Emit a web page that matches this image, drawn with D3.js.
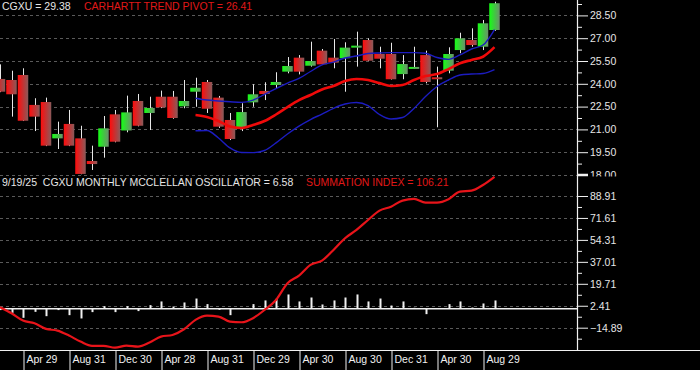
<!DOCTYPE html>
<html>
<head>
<meta charset="utf-8">
<script src="https://cdn.jsdelivr.net/npm/d3@7"></script>
<style>
  body { margin: 0; background: #000; }
  svg { display: block; }
  text { font-family: "Liberation Sans", Arial, sans-serif; }
</style>
</head>
<body>
<svg id="chart"></svg>
<script>
// monthly bars, Feb 2022 .. Sep 2025
const months = [
    '2022-02', '2022-03', '2022-04', '2022-05', '2022-06', '2022-07', '2022-08', '2022-09', '2022-10', '2022-11', '2022-12',
    '2023-01', '2023-02', '2023-03', '2023-04', '2023-05', '2023-06', '2023-07', '2023-08', '2023-09', '2023-10', '2023-11', '2023-12',
    '2024-01', '2024-02', '2024-03', '2024-04', '2024-05', '2024-06', '2024-07', '2024-08', '2024-09', '2024-10', '2024-11', '2024-12',
    '2025-01', '2025-02', '2025-03', '2025-04', '2025-05', '2025-06', '2025-07', '2025-08', '2025-09'
];
const opens  = [24.32, 24.25, 24.58, 22.61, 22.80, 20.41, 21.36, 20.41, 18.92, 19.86, 21.99, 20.93, 22.87, 22.08, 23.15, 23.15, 22.52, 23.48, 24.12, 23.09, 21.62, 21.11, 22.78, 23.53, 23.92, 24.80, 25.72, 25.19, 26.18, 25.72, 25.68, 26.38, 26.88, 25.96, 25.96, 24.64, 24.99, 25.89, 24.43, 24.86, 26.22, 26.88, 26.44, 27.54];
const highs  = [25.28, 24.86, 25.02, 23.05, 23.09, 21.51, 22.28, 21.24, 19.93, 21.88, 22.28, 23.22, 23.33, 23.15, 23.55, 23.53, 24.25, 24.40, 24.25, 23.20, 22.08, 22.72, 23.97, 24.10, 24.76, 25.76, 25.89, 26.77, 26.29, 26.95, 26.73, 27.43, 26.99, 26.44, 26.70, 25.89, 26.44, 26.18, 25.13, 26.40, 27.36, 27.65, 28.20, 29.40];
const lows   = [23.45, 21.84, 21.55, 20.89, 19.90, 19.71, 19.90, 18.05, 18.33, 19.14, 20.15, 20.81, 21.20, 20.96, 22.40, 21.70, 22.39, 22.49, 22.08, 21.10, 20.30, 20.89, 22.49, 22.93, 23.70, 24.69, 24.62, 25.13, 25.25, 25.02, 23.48, 25.13, 25.50, 25.02, 24.28, 24.30, 24.99, 24.03, 21.14, 24.69, 26.01, 26.44, 26.22, 27.49];
const closes = [23.48, 23.31, 21.57, 21.84, 19.93, 20.70, 19.93, 18.07, 18.72, 21.07, 20.19, 22.12, 21.24, 22.41, 22.45, 21.75, 22.87, 23.74, 22.36, 21.18, 20.37, 22.14, 23.31, 23.33, 24.12, 25.17, 24.80, 25.50, 25.28, 25.39, 26.38, 26.51, 25.52, 25.65, 24.30, 25.30, 25.11, 24.12, 24.30, 25.96, 26.99, 26.55, 27.98, 29.30];

// trend pivot and bands start in Jul 2023
const bandStart = '2023-07';
const pivot     = [21.95, 21.82, 21.55, 21.19, 21.09, 21.29, 21.55, 21.98, 22.47, 22.93, 23.26, 23.63, 23.86, 24.18, 24.32, 24.25, 24.05, 23.86, 23.92, 24.25, 24.51, 24.64, 24.97, 25.35, 25.57, 25.78, 26.41];
const upperBand = [23.05, 22.93, 22.87, 22.82, 22.78, 22.93, 23.30, 23.69, 24.05, 24.35, 24.81, 25.24, 25.43, 25.70, 25.83, 25.99, 26.03, 26.05, 26.05, 26.05, 26.01, 25.73, 25.61, 25.90, 26.29, 26.55, 27.57];
const lowerBand = [20.91, 20.93, 20.43, 19.78, 19.48, 19.47, 19.61, 20.11, 20.70, 21.22, 21.65, 22.01, 22.39, 22.67, 22.77, 22.57, 21.98, 21.68, 21.78, 22.38, 23.16, 23.82, 24.25, 24.58, 24.64, 24.68, 24.94];

// McClellan oscillator (bars) and summation index (line)
const oscillator = [-1, -3.2, -7.1, -2.4, -5.8, -1, -5, -7.6, -2.6, 2.1, -2.6, 2.1, -1.8, 2.9, 5.8, 1.8, 5, 8.1, 3.7, -0.8, -5, 0, 3.7, 6.6, 7.9, 11.3, 5.8, 8.9, 3.4, 6.6, 8.9, 11.3, 5.8, 8.1, 2.6, 5.8, 0.8, -4.2, 0, 3.7, 5.8, 1, 4.2, 6.58];
const summation  = [1.3, -3.5, -9.3, -11.4, -15.8, -17.2, -21.1, -25.8, -29.2, -29.2, -30.6, -29, -29.8, -26.6, -21.9, -20.6, -16.1, -8.7, -5.4, -6.1, -10.1, -10.6, -7.4, -0.9, 7, 20.2, 26.2, 34.6, 38, 46.4, 55.6, 62.2, 70, 77.4, 80.5, 85.3, 86.6, 83.7, 83.7, 86.4, 92.4, 93.1, 97.6, 104];

// axis ticks
const tickMonths = ['2022-04', '2022-08', '2022-12', '2023-04', '2023-08', '2023-12', '2024-04', '2024-08', '2024-12', '2025-04', '2025-08'];
const tickLabels = ['Apr 29', 'Aug 31', 'Dec 30', 'Apr 28', 'Aug 31', 'Dec 29', 'Apr 30', 'Aug 30', 'Dec 31', 'Apr 30', 'Aug 29'];
const priceTicks = [18, 19.5, 21, 22.5, 24, 25.5, 27, 28.5];
const oscTicks   = [-14.89, 2.41, 19.71, 37.01, 54.31, 71.61, 88.91];

const width = 700, height = 370;
const plotRight = 577, axisY = 350;

const svg = d3.select('#chart')
    .attr('width', width)
    .attr('height', height);

svg.append('rect').attr('width', width).attr('height', height).attr('fill', '#000');

// gradients for candle bodies (bright on the left, greyish on the right)
const defs = svg.append('defs');
[['gRed', '#ff0c0c', '#8a5a5a'], ['gGreen', '#16ff16', '#6c906c']].forEach(([id, c0, c1]) => {
    const g = defs.append('linearGradient').attr('id', id).attr('x1', 0).attr('x2', 1).attr('y1', 0).attr('y2', 0);
    g.append('stop').attr('offset', '0%').attr('stop-color', c0);
    g.append('stop').attr('offset', '100%').attr('stop-color', c1);
});
defs.append('clipPath').attr('id', 'plotClip')
    .append('rect').attr('x', 0).attr('y', 0).attr('width', plotRight).attr('height', axisY);
defs.append('clipPath').attr('id', 'labelClip')
    .append('rect').attr('x', plotRight).attr('y', 0).attr('width', width - plotRight).attr('height', 176.5);

// scales
const xScale = d3.scalePoint().domain(months).range([0, 494.5]);
const yPrice = d3.scaleLinear().domain([18, 28.5]).range([175, 15.4]);
const yOsc = d3.scaleLinear().domain([-14.89, 88.91]).range([327.7, 196]);

const half = (arr) => arr.slice(0, -1).map((d, i) => (d + arr[i + 1]) / 2);

// dashed grid lines
const grid = svg.append('g').attr('class', 'grid');
grid.selectAll('.gp').data(priceTicks).join('line')
    .attr('x1', 0).attr('x2', plotRight)
    .attr('y1', d => Math.round(yPrice(d)) + 0.5).attr('y2', d => Math.round(yPrice(d)) + 0.5);
grid.selectAll('.go').data(oscTicks).join('line')
    .attr('class', 'go')
    .attr('x1', 0).attr('x2', plotRight)
    .attr('y1', d => Math.round(yOsc(d)) + 0.5).attr('y2', d => Math.round(yOsc(d)) + 0.5);
grid.selectAll('line')
    .attr('stroke', '#5a5a5a')
    .attr('stroke-dasharray', '3,3');

const plot = svg.append('g').attr('clip-path', 'url(#plotClip)');

// candles
const candles = months.map((m, i) => ({ m, o: opens[i], h: highs[i], l: lows[i], c: closes[i] }));
const candleW = 10.5;

plot.selectAll('.wick').data(candles).join('line')
    .attr('class', 'wick')
    .attr('x1', d => Math.round(xScale(d.m)) + 0.5)
    .attr('x2', d => Math.round(xScale(d.m)) + 0.5)
    .attr('y1', d => yPrice(d.h))
    .attr('y2', d => yPrice(d.l))
    .attr('stroke', '#e8e8e8')
    .attr('stroke-width', 1);

plot.selectAll('.body').data(candles).join('rect')
    .attr('class', 'body')
    .attr('x', d => xScale(d.m) - candleW / 2)
    .attr('width', candleW)
    .attr('y', d => yPrice(Math.max(d.o, d.c)))
    .attr('height', d => Math.max(2, Math.abs(yPrice(d.o) - yPrice(d.c))))
    .attr('fill', d => d.c >= d.o ? 'url(#gGreen)' : 'url(#gRed)');

// trend pivot + bands
const bandMonths = months.slice(months.indexOf(bandStart));
const line = d3.line()
    .x((d, i) => xScale(bandMonths[i]))
    .y(d => yPrice(d))
    .curve(d3.curveMonotoneX);

plot.append('path').datum(upperBand)
    .attr('d', line).attr('fill', 'none')
    .attr('stroke', '#1c1cc0').attr('stroke-width', 1.4);
plot.append('path').datum(lowerBand)
    .attr('d', line).attr('fill', 'none')
    .attr('stroke', '#1c1cc0').attr('stroke-width', 1.4);
plot.append('path').datum(pivot)
    .attr('d', line).attr('fill', 'none')
    .attr('stroke', '#f00a0a').attr('stroke-width', 2.6);

// oscillator bars
plot.selectAll('.osc').data(oscillator).join('rect')
    .attr('class', 'osc')
    .attr('x', (d, i) => Math.round(xScale(months[i])) - 0.5)
    .attr('width', 2)
    .attr('y', d => Math.min(yOsc(0), yOsc(d)))
    .attr('height', d => Math.abs(yOsc(d) - yOsc(0)))
    .attr('fill', '#f0f0f0');

// zero line
plot.append('line')
    .attr('x1', 0).attr('x2', plotRight)
    .attr('y1', yOsc(0)).attr('y2', yOsc(0))
    .attr('stroke', '#f0f0f0').attr('stroke-width', 1.5);

// summation index
plot.append('path').datum(summation)
    .attr('d', d3.line()
        .x((d, i) => xScale(months[i]))
        .y(d => yOsc(d))
        .curve(d3.curveMonotoneX))
    .attr('fill', 'none')
    .attr('stroke', '#e8141a')
    .attr('stroke-width', 2.2);

// right axes
const styleAxis = g => {
    g.select('.domain').remove();
    g.selectAll('line').attr('stroke', '#f0f0f0');
    g.selectAll('text').attr('fill', '#e6e6e6').attr('font-size', 10.5);
};

// price labels, clipped where the lower pane begins
svg.append('g')
    .attr('clip-path', 'url(#labelClip)')
    .append('g')
    .attr('transform', `translate(${plotRight},0)`)
    .call(d3.axisRight(yPrice).tickValues(priceTicks).tickSize(11).tickPadding(2).tickFormat(d3.format('.2f')))
    .call(styleAxis);
svg.append('g')
    .attr('transform', `translate(${plotRight},0)`)
    .call(d3.axisRight(yPrice).tickValues(half(priceTicks).concat([29.25])).tickSize(5).tickFormat(''))
    .call(styleAxis);
// thicker tick for the pane separator
svg.append('line')
    .attr('x1', plotRight).attr('x2', plotRight + 11)
    .attr('y1', yPrice(18)).attr('y2', yPrice(18))
    .attr('stroke', '#f0f0f0').attr('stroke-width', 2.5);

svg.append('g')
    .attr('transform', `translate(${plotRight},0)`)
    .call(d3.axisRight(yOsc).tickValues(oscTicks).tickSize(11).tickPadding(2).tickFormat(d3.format('.2f')))
    .call(styleAxis);
svg.append('g')
    .attr('transform', `translate(${plotRight},0)`)
    .call(d3.axisRight(yOsc).tickValues(half(oscTicks).concat([-23.54])).tickSize(5).tickFormat(''))
    .call(styleAxis);

// date axis
const xAxisG = svg.append('g')
    .attr('transform', `translate(0,${axisY})`)
    .call(d3.axisBottom(xScale).tickValues(tickMonths).tickSize(20).tickFormat((d, i) => tickLabels[i]))
    .call(g => g.select('.domain').remove());
xAxisG.selectAll('.tick line')
    .attr('stroke', '#f0f0f0')
    .attr('transform', 'translate(0.5,0)');
xAxisG.selectAll('.tick text')
    .attr('fill', '#f0f0f0')
    .attr('font-size', 10.5)
    .attr('text-anchor', 'start')
    .attr('x', 3)
    .attr('y', 13)
    .attr('dy', 0);

// frame lines
svg.append('line')
    .attr('x1', plotRight + 0.5).attr('x2', plotRight + 0.5)
    .attr('y1', 0).attr('y2', axisY)
    .attr('stroke', '#f0f0f0').attr('stroke-width', 1.2);
svg.append('line')
    .attr('x1', 0).attr('x2', width)
    .attr('y1', axisY + 0.5).attr('y2', axisY + 0.5)
    .attr('stroke', '#f0f0f0').attr('stroke-width', 1.2);

// pane titles
const title = (x, y, color, txt) => svg.append('text')
    .attr('x', x).attr('y', y)
    .attr('fill', color)
    .attr('font-size', 10.5)
    .style('white-space', 'pre')
    .text(txt);

title(2, 10, '#e6e6e6', 'CGXU = 29.38');
title(84, 10, '#e01818', 'CARHARTT TREND PIVOT = 26.41');
title(2, 185.5, '#e6e6e6', '9/19/25  CGXU MONTHLY MCCLELLAN OSCILLATOR = 6.58');
title(306, 185.5, '#e01818', 'SUMMATION INDEX = 106.21');
</script>
</body>
</html>
